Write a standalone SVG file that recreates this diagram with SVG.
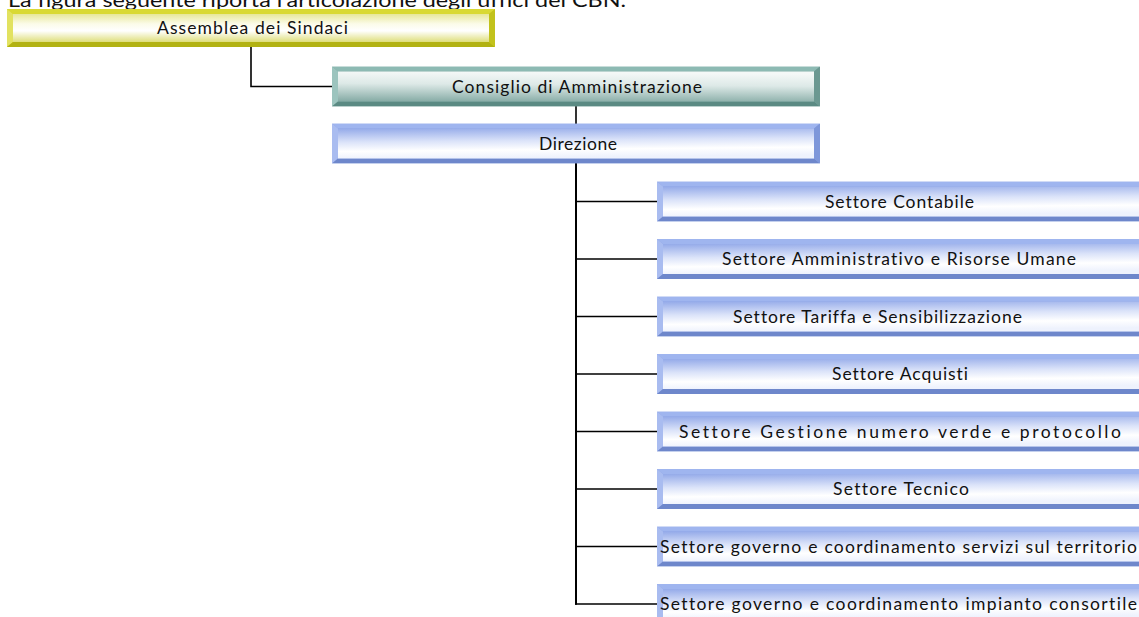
<svg xmlns="http://www.w3.org/2000/svg" xmlns:xlink="http://www.w3.org/1999/xlink" width="1139" height="617" viewBox="0 0 1139 617">
  <style>
    .lbl { font-family: Lato, "Open Sans", "Liberation Sans", sans-serif; font-size: 17.5px; fill: #111; font-variant-ligatures: none; }
    .title { font-family: Lato, "Open Sans", "Liberation Sans", sans-serif; font-size: 20px; fill: #111; font-variant-ligatures: none; }
    .conn { stroke: #000; stroke-width: 1.6; fill: none; }
  </style>
  <defs>
    <linearGradient id="gBlue" x1="0" y1="0" x2="0.15" y2="1">
      <stop offset="0" stop-color="#94aae9"/>
      <stop offset="0.45" stop-color="#dbe3f9"/>
      <stop offset="0.75" stop-color="#ffffff"/>
      <stop offset="1" stop-color="#eef2fd"/>
    </linearGradient>
    <linearGradient id="gTeal" x1="0.1" y1="0" x2="0" y2="1">
      <stop offset="0" stop-color="#f4f8f7"/>
      <stop offset="0.4" stop-color="#dde9e7"/>
      <stop offset="1" stop-color="#84aaa4"/>
    </linearGradient>
    <linearGradient id="gYellow" x1="0" y1="0" x2="0" y2="1">
      <stop offset="0" stop-color="#e7e79a"/>
      <stop offset="0.35" stop-color="#fbfbe8"/>
      <stop offset="0.6" stop-color="#ffffff"/>
      <stop offset="1" stop-color="#dede7a"/>
    </linearGradient>
    <symbol id="bvBlue" viewBox="0 0 488 40" width="488" height="40">
      <rect x="0" y="0" width="488" height="40" fill="#8aa3e4"/>
      <polygon points="0,0 488,0 482,5 6,5" fill="#9fb5ef"/>
      <polygon points="0,0 6,5 6,35 0,40" fill="#a9bcf0"/>
      <polygon points="0,40 6,35 482,35 488,40" fill="#6e87cb"/>
      <polygon points="488,0 488,40 482,35 482,5" fill="#7e97da"/>
      <rect x="6" y="5" width="476" height="30" fill="url(#gBlue)"/>
    </symbol>
    <symbol id="bvTeal" viewBox="0 0 488 40" width="488" height="40">
      <rect x="0" y="0" width="488" height="40" fill="#78a59e"/>
      <polygon points="0,0 488,0 482,5 6,5" fill="#8dbab3"/>
      <polygon points="0,0 6,5 6,35 0,40" fill="#9cc4be"/>
      <polygon points="0,40 6,35 482,35 488,40" fill="#5b8a83"/>
      <polygon points="488,0 488,40 482,35 482,5" fill="#6b9891"/>
      <rect x="6" y="5" width="476" height="30" fill="url(#gTeal)"/>
    </symbol>
    <symbol id="bvYellow" viewBox="0 0 488 38" width="488" height="38">
      <rect x="0" y="0" width="488" height="38" fill="#cfcf22"/>
      <polygon points="0,0 488,0 482,5 6,5" fill="#d9d934"/>
      <polygon points="0,0 6,5 6,33 0,38" fill="#e2e260"/>
      <polygon points="0,38 6,33 482,33 488,38" fill="#b2b212"/>
      <polygon points="488,0 488,38 482,33 482,5" fill="#c2c21c"/>
      <rect x="6" y="5" width="476" height="28" fill="url(#gYellow)"/>
    </symbol>
  </defs>

  <rect width="1139" height="617" fill="#ffffff"/>

  <text class="title" x="8" y="7" textLength="618" lengthAdjust="spacingAndGlyphs">La figura seguente riporta l’articolazione degli uffici del CBN.</text>

  <g id="connectors">
    <polyline class="conn" points="251,47 251,86.5 332,86.5"/>
    <line class="conn" x1="576" y1="106" x2="576" y2="124"/>
    <line class="conn" x1="576" y1="163" x2="576" y2="604.8" style="stroke-width:2"/>
    <line class="conn" x1="576" y1="201.5" x2="657" y2="201.5"/>
    <line class="conn" x1="576" y1="259" x2="657" y2="259"/>
    <line class="conn" x1="576" y1="316.5" x2="657" y2="316.5"/>
    <line class="conn" x1="576" y1="374" x2="657" y2="374"/>
    <line class="conn" x1="576" y1="431.5" x2="657" y2="431.5"/>
    <line class="conn" x1="576" y1="489" x2="657" y2="489"/>
    <line class="conn" x1="576" y1="546.5" x2="657" y2="546.5"/>
    <line class="conn" x1="575" y1="604" x2="657" y2="604"/>
  </g>

  <g id="assemblea">
    <use xlink:href="#bvYellow" href="#bvYellow" x="7" y="9"/>
    <text class="lbl" x="157" y="34" textLength="191" lengthAdjust="spacing">Assemblea dei Sindaci</text>
  </g>
  <g id="consiglio">
    <use xlink:href="#bvTeal" href="#bvTeal" x="332" y="66.5"/>
    <text class="lbl" x="452" y="92.5" textLength="250" lengthAdjust="spacing">Consiglio di Amministrazione</text>
  </g>
  <g id="direzione">
    <use xlink:href="#bvBlue" href="#bvBlue" x="332" y="123.5"/>
    <text class="lbl" x="539" y="149.5" textLength="78" lengthAdjust="spacing">Direzione</text>
  </g>
  <g id="settore-contabile">
    <use xlink:href="#bvBlue" href="#bvBlue" x="657" y="181.5"/>
    <text class="lbl" x="825" y="207.5" textLength="149" lengthAdjust="spacing">Settore Contabile</text>
  </g>
  <g id="settore-amministrativo">
    <use xlink:href="#bvBlue" href="#bvBlue" x="657" y="239"/>
    <text class="lbl" x="722" y="265" textLength="354" lengthAdjust="spacing">Settore Amministrativo e Risorse Umane</text>
  </g>
  <g id="settore-tariffa">
    <use xlink:href="#bvBlue" href="#bvBlue" x="657" y="296.5"/>
    <text class="lbl" x="733" y="322.5" textLength="289" lengthAdjust="spacing">Settore Tariffa e Sensibilizzazione</text>
  </g>
  <g id="settore-acquisti">
    <use xlink:href="#bvBlue" href="#bvBlue" x="657" y="354"/>
    <text class="lbl" x="832" y="380" textLength="136" lengthAdjust="spacing">Settore Acquisti</text>
  </g>
  <g id="settore-gestione">
    <use xlink:href="#bvBlue" href="#bvBlue" x="657" y="411.5"/>
    <text class="lbl" x="679" y="437.5" textLength="442" lengthAdjust="spacing">Settore Gestione numero verde e protocollo</text>
  </g>
  <g id="settore-tecnico">
    <use xlink:href="#bvBlue" href="#bvBlue" x="657" y="469"/>
    <text class="lbl" x="833" y="495" textLength="136" lengthAdjust="spacing">Settore Tecnico</text>
  </g>
  <g id="settore-servizi">
    <use xlink:href="#bvBlue" href="#bvBlue" x="657" y="526.5"/>
    <text class="lbl" x="660" y="552.5" textLength="477" lengthAdjust="spacing">Settore governo e coordinamento servizi sul territorio</text>
  </g>
  <g id="settore-impianto">
    <use xlink:href="#bvBlue" href="#bvBlue" x="657" y="584"/>
    <text class="lbl" x="660" y="610" textLength="477" lengthAdjust="spacing">Settore governo e coordinamento impianto consortile</text>
  </g>
</svg>
